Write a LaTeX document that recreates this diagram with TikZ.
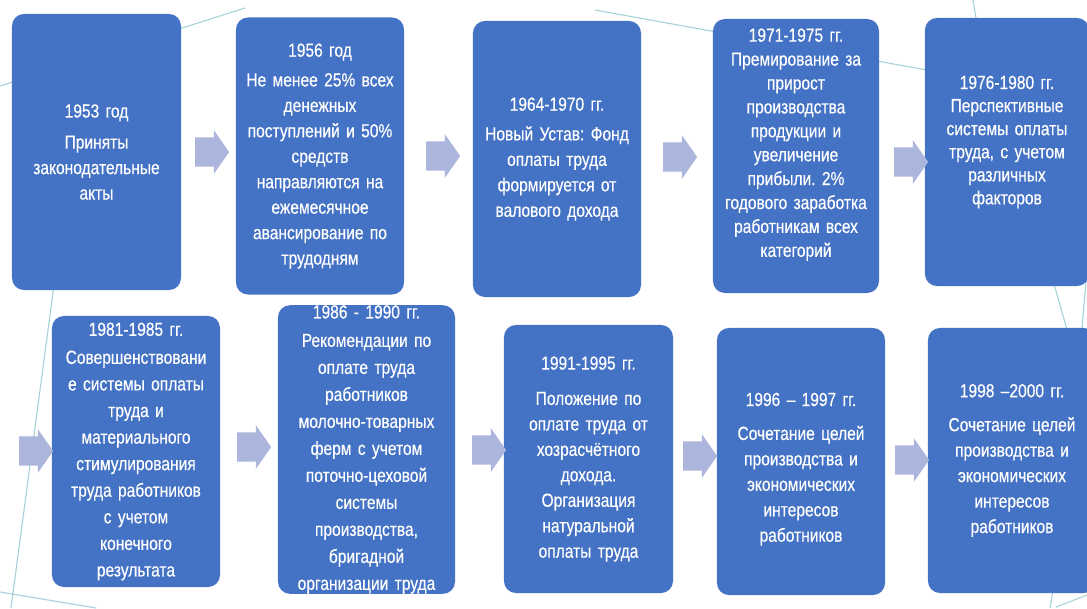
\documentclass[tikz,border=0pt]{standalone}
\usepackage{fontspec}
\newfontfamily\stagefont{Liberation Sans}[FakeStretch=0.82,FakeBold=0.4]
\usepackage{xcolor}
\usepackage{tikz}
\usetikzlibrary{shapes.arrows}
\definecolor{boxBlue}{RGB}{68,114,196}
\definecolor{arrLav}{RGB}{172,182,220}
\definecolor{decoTeal}{RGB}{168,210,216}
\frenchspacing

\begin{document}
\begin{tikzpicture}[
  x=0.025cm,y=-0.025cm,
  stage/.style 2 args={rectangle,rounded corners=0.3cm,fill=boxBlue,text=white,
    align=center,inner sep=0pt,text width=4.1cm,minimum width=#1,minimum height=#2,
    font=\stagefont\fontsize{13.5}{18.1}\selectfont},
  lead/.style={font=\stagefont\fontsize{13.5}{#1}\selectfont},
  arr/.style={single arrow,fill=arrLav,draw=none,inner xsep=0pt,inner ysep=0.36cm,
    minimum height=0.85cm,single arrow head extend=0.18cm,single arrow tip angle=110},
  deco/.style={draw=decoTeal,line width=0.8pt}
]
  \clip (0,0) rectangle (1087,608);
  % ---------------- BACKGROUND LINES ----------------
  \draw[deco] (0,86) -- (245,8);
  \draw[deco] (595,10) -- (960,76);
  \draw[deco] (973,0) -- (976,18);
  \draw[deco] (60,240) -- (11,608);
  \draw[deco] (0,592) -- (96,608);
  \draw[deco] (1050,270) -- (1070,340);
  \draw[deco] (1087,270) -- (1081,340);
  \draw[deco] (1053,590) -- (1050,608);
  \draw[deco] (1056,607) -- (1087,595);
  % ---------------- TOP ROW ----------------
  \node[stage={4.225cm}{6.9cm}] (st1) at (96.5,152)
    {1953 год\\[4pt] Приняты\\ законодательные\\ акты};
  \node[stage={4.2cm}{6.925cm}] (st2) at (320,156)
    {1956 год\\[3pt] Не менее 25\% всех\\ денежных\\ поступлений и 50\%\\ средств\\ направляются на\\ ежемесячное\\ авансирование по\\ трудодням};
  \node[stage={4.2cm}{6.9cm}] (st3) at (557,159)
    {1964-1970 гг.\\[3pt] Новый Устав: Фонд\\ оплаты труда\\ формируется от\\ валового дохода};
  \node[stage={4.15cm}{6.85cm},lead=17pt,text depth=172pt] (st4) at (796,156)
    {1971-1975 гг.\\ Премирование за\\ прирост\\ производства\\ продукции и\\ увеличение\\ прибыли. 2\%\\ годового заработка\\ работникам всех\\ категорий};
  \node[stage={4.1cm}{6.7cm},lead=16.4pt,text depth=99pt] (st5) at (1007,152)
    {1976-1980 гг.\\ Перспективные\\ системы оплаты\\ труда, с учетом\\ различных\\ факторов};
  % ---------------- BOTTOM ROW ----------------
  \node[stage={4.2cm}{6.775cm},lead=18.9pt] (st6) at (136,451.5)
    {1981-1985 гг.\\[1pt] Совершенствовани\\ е системы оплаты\\ труда и\\ материального\\ стимулирования\\ труда работников\\ с учетом\\ конечного\\ результата};
  \node[stage={4.425cm}{7.025cm},lead=19.2pt] (st7) at (366.5,449.5)
    {1986 - 1990 гг.\\[1pt] Рекомендации по\\ оплате труда\\ работников\\ молочно-товарных\\ ферм с учетом\\ поточно-цеховой\\ системы\\ производства,\\ бригадной\\ организации труда};
  \node[stage={4.225cm}{6.7cm}] (st8) at (588.5,459)
    {1991-1995 гг.\\[7pt] Положение по\\ оплате труда от\\ хозрасчётного\\ дохода.\\ Организация\\ натуральной\\ оплаты труда};
  \node[stage={4.2cm}{6.675cm},text height=20.4pt] (st9) at (801,461.5)
    {1996 – 1997 гг.\\[6pt] Сочетание целей\\ производства и\\ экономических\\ интересов\\ работников};
  \node[stage={4.2cm}{6.625cm}] (st10) at (1012,460.5)
    {1998 –2000 гг.\\[6pt] Сочетание целей\\ производства и\\ экономических\\ интересов\\ работников};
  % ---------------- ARROWS ----------------
  \foreach \id/\x/\y in {1/207/152,2/438/156,3/675/157,4/906/162,
                         0/31/451,5/249/447,6/484/450,7/695/456,8/907/460}{
    \node[arr] (ar\id) at (\x,\y) {};}
\end{tikzpicture}
\end{document}
